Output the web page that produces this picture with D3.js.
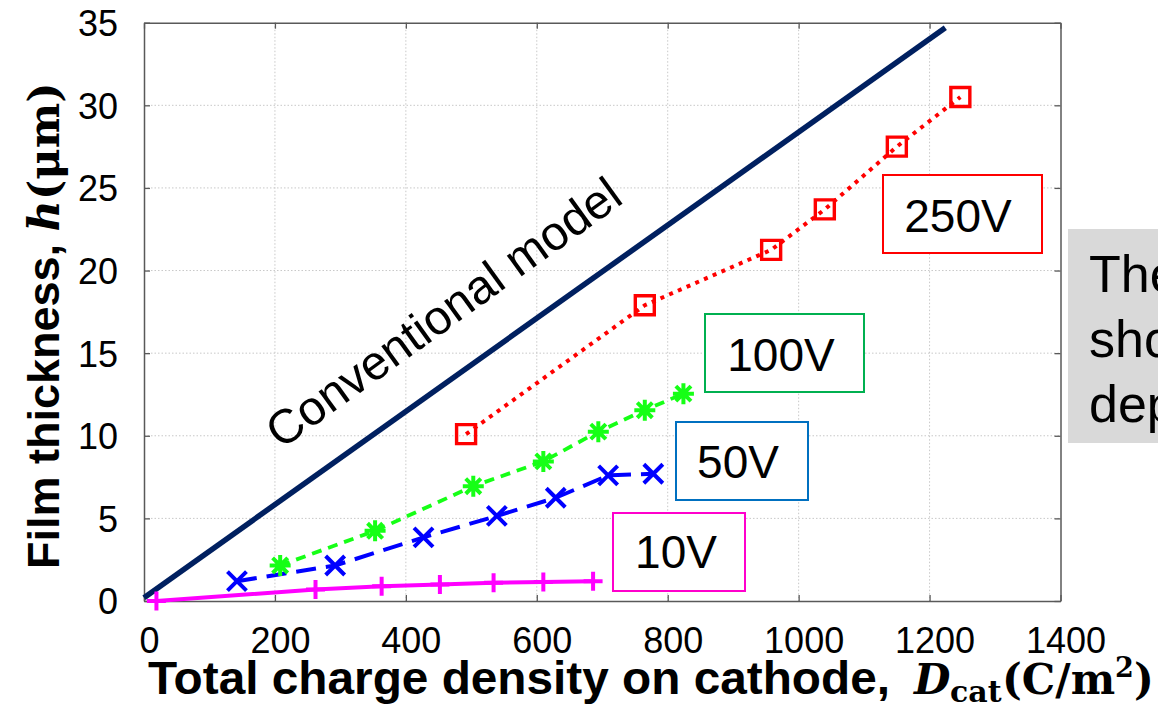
<!DOCTYPE html>
<html>
<head>
<meta charset="utf-8">
<script src="https://cdn.jsdelivr.net/npm/d3@7"></script>
<style>
  html, body { margin: 0; padding: 0; background: #fff; }
  svg { display: block; }
</style>
</head>
<body>
<svg id="chart" width="1158" height="706"></svg>
<script>
// ---- data -------------------------------------------------------------
const xTicks = [0, 200, 400, 600, 800, 1000, 1200, 1400];
const yTicks = [0, 5, 10, 15, 20, 25, 30, 35];

// Conventional (Faraday) model line
const modelX = [0, 1224];
const modelY = [0.2, 34.7];

// Measured film thickness at each applied voltage
const v10X  = [19, 262, 363, 452, 534, 610, 686];
const v10Y  = [0.0, 0.7, 0.9, 1.0, 1.1, 1.15, 1.2];

const v50X  = [142, 292, 427, 539, 629, 709, 778];
const v50Y  = [1.2, 2.15, 3.85, 5.15, 6.25, 7.6, 7.7];

const v100X = [208, 353, 503, 610, 694, 765, 824];
const v100Y = [2.15, 4.25, 6.95, 8.45, 10.25, 11.55, 12.55];

const v250X = [492, 765, 958, 1040, 1150, 1247];
const v250Y = [10.1, 17.9, 21.25, 23.7, 27.5, 30.5];

const seriesNames = ["10V", "50V", "100V", "250V"];

// ---- layout -----------------------------------------------------------
const svg = d3.select("#chart");
const plot = { left: 144, right: 1060.5, top: 22.7, bottom: 601 };

const x = d3.scaleLinear().domain([0, 1400]).range([plot.left, plot.right]);
const y = d3.scaleLinear().domain([0, 35]).range([plot.bottom, plot.top]);

const sans = "'Liberation Sans', Arial, Helvetica, sans-serif";
const serif = "'DejaVu Serif', 'Liberation Serif', serif";
const axisColor = "#595959";

// ---- grid -------------------------------------------------------------
const grid = svg.append("g").attr("class", "grid");
grid.selectAll("line.gx")
  .data(xTicks.filter(d => d > 0 && d < 1400))
  .join("line")
  .attr("x1", d => x(d)).attr("x2", d => x(d))
  .attr("y1", plot.top).attr("y2", plot.bottom)
  .attr("stroke", "#c8c8c8").attr("stroke-width", 1)
  .attr("stroke-dasharray", "1.5,2");
grid.selectAll("line.gy")
  .data(yTicks.filter(d => d > 0 && d < 35))
  .join("line")
  .attr("x1", plot.left).attr("x2", plot.right)
  .attr("y1", d => y(d)).attr("y2", d => y(d))
  .attr("stroke", "#c8c8c8").attr("stroke-width", 1)
  .attr("stroke-dasharray", "1.5,2");

// ---- axes (box with inward ticks) -------------------------------------
function styleAxis(g) {
  g.select(".domain").attr("stroke", axisColor).attr("stroke-width", 1.5);
  g.selectAll(".tick line").attr("stroke", axisColor).attr("stroke-width", 1.3);
}

const xAxis = svg.append("g")
  .attr("transform", `translate(0,${plot.bottom})`)
  .call(d3.axisBottom(x).tickValues(xTicks).tickFormat(d3.format("d"))
    .tickSizeInner(-6).tickSizeOuter(0).tickPadding(0))
  .call(styleAxis);
xAxis.selectAll(".tick text")
  .attr("font-family", sans).attr("font-size", 36).attr("fill", "#000")
  .attr("dy", null).attr("y", 52).attr("x", 5);

svg.append("g")
  .attr("transform", `translate(0,${plot.top})`)
  .call(d3.axisTop(x).tickValues(xTicks).tickSizeInner(-6).tickSizeOuter(0).tickFormat(""))
  .call(styleAxis);

const yAxis = svg.append("g")
  .attr("transform", `translate(${plot.left},0)`)
  .call(d3.axisLeft(y).tickValues(yTicks).tickFormat(d3.format("d"))
    .tickSizeInner(-6).tickSizeOuter(0).tickPadding(0))
  .call(styleAxis);
yAxis.selectAll(".tick text")
  .attr("font-family", sans).attr("font-size", 36).attr("fill", "#000")
  .attr("x", -26).attr("dy", "0.36em");

svg.append("g")
  .attr("transform", `translate(${plot.right},0)`)
  .call(d3.axisRight(y).tickValues(yTicks).tickSizeInner(-6).tickSizeOuter(0).tickFormat(""))
  .call(styleAxis);

// ---- axis titles ------------------------------------------------------
const xTitle = svg.append("text")
  .attr("y", 694)
  .attr("font-weight", "bold").attr("fill", "#000");
xTitle.append("tspan").attr("x", 148)
  .attr("font-family", sans).attr("font-size", 46)
  .attr("textLength", 742).attr("lengthAdjust", "spacingAndGlyphs")
  .text("Total charge density on cathode,");
xTitle.append("tspan").attr("x", 914)
  .attr("font-family", serif).attr("font-size", 42)
  .attr("font-style", "italic").text("D");
xTitle.append("tspan").attr("x", 950)
  .attr("font-family", serif).attr("font-size", 30)
  .attr("dy", 8).text("cat");
xTitle.append("tspan").attr("x", 1002)
  .attr("font-family", serif).attr("font-size", 42)
  .attr("dy", -8).text("(C/m");
xTitle.append("tspan").attr("font-family", serif).attr("font-size", 27)
  .attr("dy", -17).text("2");
xTitle.append("tspan").attr("font-family", serif).attr("font-size", 42)
  .attr("dy", 17).text(")");

const yTitle = svg.append("text")
  .attr("transform", "translate(59,569) rotate(-90)")
  .attr("font-weight", "bold").attr("fill", "#000");
yTitle.append("tspan").attr("font-family", sans).attr("font-size", 45)
  .text("Film thickness, ");
yTitle.append("tspan").attr("font-family", serif).attr("font-size", 43)
  .attr("font-style", "italic").text("h");
yTitle.append("tspan").attr("font-family", serif).attr("font-size", 43)
  .text("(\u03bcm)");

// ---- conventional model line -----------------------------------------
const line = d3.line().x(d => x(d[0])).y(d => y(d[1]));
svg.append("path")
  .datum(d3.zip(modelX, modelY))
  .attr("d", line)
  .attr("fill", "none").attr("stroke", "#002060").attr("stroke-width", 5.5);

svg.append("text")
  .attr("transform", "translate(281,450) rotate(-35.8)")
  .attr("font-family", sans).attr("font-size", 48).attr("fill", "#000")
  .text("Conventional model");

// ---- measured series --------------------------------------------------
const markers = {
  plus: r => `M${-r},0H${r}M0,${-r}V${r}`,
  cross: r => `M${-r},${-r}L${r},${r}M${-r},${r}L${r},${-r}`,
  star: r => {
    const k = r * 0.72;
    return `M${-r},0H${r}M0,${-r}V${r}M${-k},${-k}L${k},${k}M${-k},${k}L${k},${-k}`;
  },
  square: r => `M${-r},${-r}H${r}V${r}H${-r}Z`
};

const series = [
  { name: seriesNames[0], xs: v10X,  ys: v10Y,  color: "#ff00ff", dash: null,    width: 4,   marker: "plus",   r: 9.5, mw: 4 },
  { name: seriesNames[1], xs: v50X,  ys: v50Y,  color: "#0000ff", dash: "20,10", width: 4,   marker: "cross",  r: 9.5, mw: 4 },
  { name: seriesNames[2], xs: v100X, ys: v100Y, color: "#16ff16", dash: "10,7",  width: 3.8, marker: "star",   r: 10.5, mw: 4 },
  { name: seriesNames[3], xs: v250X, ys: v250Y, color: "#ff0000", dash: "4,5.5", width: 4,   marker: "square", r: 9.5, mw: 3.4 }
];

series.forEach(s => {
  const pts = d3.zip(s.xs, s.ys);
  const g = svg.append("g").attr("class", "series");
  g.append("path")
    .datum(pts)
    .attr("d", line)
    .attr("fill", "none")
    .attr("stroke", s.color)
    .attr("stroke-width", s.width)
    .attr("stroke-dasharray", s.dash);
  g.selectAll("path.marker")
    .data(pts)
    .join("path")
    .attr("class", "marker")
    .attr("transform", d => `translate(${x(d[0])},${y(d[1])})`)
    .attr("d", markers[s.marker](s.r))
    .attr("fill", "none")
    .attr("stroke", s.color)
    .attr("stroke-width", s.mw);
});

// ---- voltage labels ---------------------------------------------------
const labelBoxes = [
  { text: seriesNames[3], x0: 883, y0: 175, x1: 1042, y1: 253, tx: 958, ty: 232, color: "#ff0000" },
  { text: seriesNames[2], x0: 705, y0: 314, x1: 864,  y1: 392, tx: 781, ty: 371, color: "#00b050" },
  { text: seriesNames[1], x0: 676, y0: 422, x1: 808,  y1: 500, tx: 738, ty: 478, color: "#0070c0" },
  { text: seriesNames[0], x0: 613, y0: 513, x1: 745,  y1: 591, tx: 676, ty: 568, color: "#ff00cc" }
];
const lb = svg.append("g").attr("class", "labels");
lb.selectAll("rect")
  .data(labelBoxes)
  .join("rect")
  .attr("x", d => d.x0).attr("y", d => d.y0)
  .attr("width", d => d.x1 - d.x0).attr("height", d => d.y1 - d.y0)
  .attr("fill", "#fff").attr("stroke", d => d.color).attr("stroke-width", 2);
lb.selectAll("text")
  .data(labelBoxes)
  .join("text")
  .attr("x", d => d.tx).attr("y", d => d.ty)
  .attr("text-anchor", "middle")
  .attr("font-family", sans).attr("font-size", 46).attr("fill", "#000")
  .text(d => d.text);

// ---- side note panel --------------------------------------------------
svg.append("rect")
  .attr("x", 1068).attr("y", 229).attr("width", 100).attr("height", 214)
  .attr("fill", "#d9d9d9");
const noteLines = ["The", "sho", "dep"];
svg.append("g").selectAll("text")
  .data(noteLines)
  .join("text")
  .attr("x", 1089).attr("y", (d, i) => 292 + i * 65)
  .attr("font-family", sans).attr("font-size", 52).attr("fill", "#000")
  .text(d => d);
</script>
</body>
</html>
